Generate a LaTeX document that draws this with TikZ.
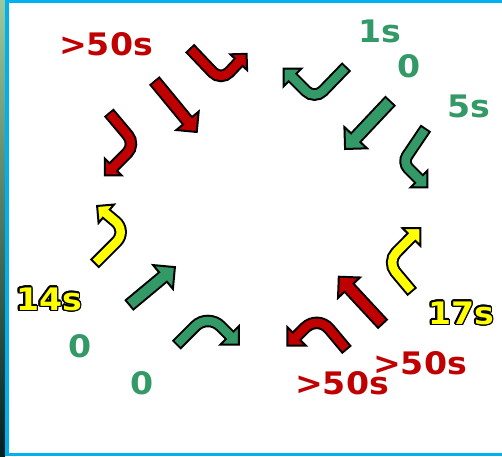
\documentclass[tikz,border=0pt]{standalone}
\usepackage{fontspec}
\newfontfamily\labfont[FakeStretch=1.07]{DejaVu Sans}
\usetikzlibrary{calc}
\definecolor{arred}{HTML}{C00000}
\definecolor{argreen}{HTML}{339966}
\definecolor{aryellow}{HTML}{FFFF00}
\definecolor{frameblue}{HTML}{00B0F0}
% #1 extra options, #2 colour, #3 centre-line path, #4 point before head, #5 head base, #6 head half width, #7 shaft width
\newcommand\turnarrow[7][]{%
  \draw[#1, draw=black, line width=#7pt, line cap=butt, shorten <=-2pt] #3;
  \filldraw[fill=#2, draw=black, line width=2pt, line join=miter]
    ($#5!#6pt!90:#4$) -- ($#5!-#6pt!#4$) -- ($#5!#6pt!-90:#4$) -- cycle;
  \draw[#1, draw=#2, line width=#7pt-4pt, line cap=butt, shorten >=-1.5pt] #3;
}
\newcommand\outlabel[3]{%
  \foreach \k in {0,...,15} {\node[lab, text=black] (#1-\k) at ($#2+(\k*22.5:1.5)$) {#3};}
  \node[lab, text=aryellow] (#1) at #2 {#3};
}
\begin{document}
\begin{tikzpicture}[x=1pt, y=-1pt,
  lab/.style={font=\labfont\bfseries\fontsize{31pt}{31pt}\selectfont, inner sep=0pt}]
\useasboundingbox (0,0) rectangle (502,456);
\fill[white] (0,0) rectangle (502,456);
\shade[top color=gray!70!green!60, middle color=black!60!teal!70, bottom color=black!75!teal] (0,0) rectangle (5,456);
\fill[frameblue] (5,0) rectangle (502,3);
\fill[frameblue] (5,0) rectangle (8.5,456);
\fill[frameblue] (5,453) rectangle (502,456);

% arrows
\turnarrow[rounded corners=12pt]{arred}{(191,49.5) -- (221,81) -- (238.7,62.2)}{(221,81)}{(238.7,62.2)}{11.5}{12.5}
\turnarrow{arred}{(155.5,82) -- (187.5,120.8)}{(155.5,82)}{(187.5,120.8)}{14.5}{13.5}
\turnarrow[rounded corners=12pt]{arred}{(110,114) -- (135.7,144.6) -- (113.3,167)}{(135.7,144.6)}{(113.3,167)}{12}{12.5}
\turnarrow[rounded corners=15pt]{aryellow}{(95.8,262.5) -- (127.1,231.2) -- (106.3,213.7)}{(127.1,231.2)}{(106.3,213.7)}{12}{12.5}
\turnarrow{argreen}{(130.3,304.2) -- (163,277)}{(130.3,304.2)}{(163,277)}{15.5}{14}
\turnarrow[rounded corners=18pt]{argreen}{(177.7,343.7) -- (207.9,313.5) -- (229.7,335.3)}{(207.9,313.5)}{(229.7,335.3)}{13}{12.5}
\turnarrow[rounded corners=18pt]{arred}{(345.7,348.5) -- (317.7,315.1) -- (296.5,336.3)}{(317.7,315.1)}{(296.5,336.3)}{13}{12.5}
\turnarrow{arred}{(381.8,323) -- (349,287.7)}{(381.8,323)}{(349,287.7)}{15}{14}
\turnarrow[rounded corners=13pt]{aryellow}{(411,290.5) -- (387,261.9) -- (411.5,237)}{(387,261.9)}{(411.5,237)}{12.5}{12.5}
\turnarrow[rounded corners=8pt]{argreen}{(424.8,129.7) -- (402.6,162.6) -- (419,179)}{(402.6,162.6)}{(419,179)}{12}{12.5}
\turnarrow{argreen}{(389.3,102) -- (355.7,137.7)}{(389.3,102)}{(355.7,137.7)}{15.5}{14.5}
\turnarrow[rounded corners=12pt]{argreen}{(345.2,68) -- (314.6,99.6) -- (292.5,77.5)}{(314.6,99.6)}{(292.5,77.5)}{12.5}{12.5}

% labels
\node[lab, text=arred] (tl) at (106,44) {>50s};
\node[lab, text=argreen] (n1s) at (380,31) {1s};
\node[lab, text=argreen] (n0a) at (409,66) {0};
\node[lab, text=argreen] (n5s) at (469,106) {5s};
\outlabel{n14s}{(49,299)}{14s}
\node[lab, text=argreen] (n0b) at (80,346) {0};
\node[lab, text=argreen] (n0c) at (142,383) {0};
\outlabel{n17s}{(461,313)}{17s}
\node[lab, text=arred] (r1) at (420,363) {>50s};
\node[lab, text=arred] (r2) at (342,383) {>50s};
\end{tikzpicture}
\end{document}
